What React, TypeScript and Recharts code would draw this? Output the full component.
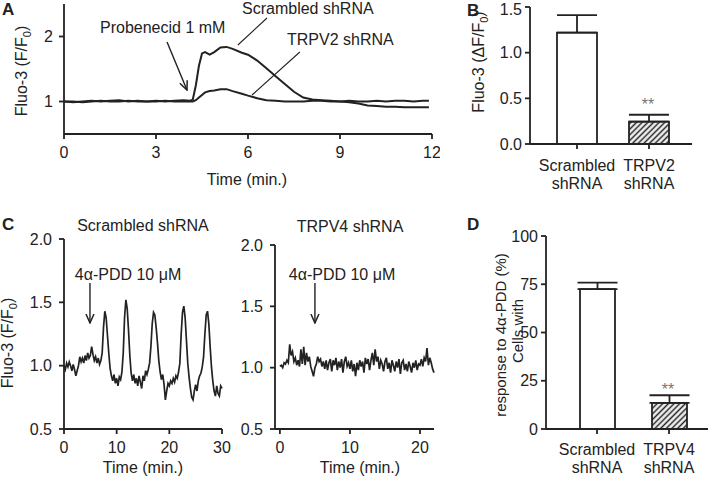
import { LineChart, Line, BarChart, Bar, Cell, ErrorBar, XAxis, YAxis, ReferenceLine } from 'recharts';

const FONT = 'Arial, "Liberation Sans", Helvetica, sans-serif';
const INK = '#222';
const AXIS = { stroke: INK, strokeWidth: 1.8 };
const TICK = { fontSize: 16, fill: INK };

// A: probenecid response (min, F/F0)
const timeA = [0, 0.3, 0.6, 0.9, 1.2, 1.5, 1.8, 2.1, 2.4, 2.7, 3.0, 3.3, 3.6, 3.9, 4.1, 4.2, 4.3, 4.4, 4.5, 4.6, 4.75, 4.9, 5.1, 5.3, 5.5, 5.8, 6.0, 6.3, 6.6, 6.9, 7.2, 7.5, 7.8, 8.1, 8.4, 8.7, 9.0, 9.3, 9.6, 9.9, 10.2, 10.5, 10.8, 11.1, 11.4, 11.7, 11.9];
const scrambledA = [1.00, 0.99, 1.00, 1.01, 1.00, 1.01, 1.02, 1.00, 1.01, 1.00, 1.01, 1.00, 1.01, 1.02, 1.01, 1.03, 1.25, 1.55, 1.74, 1.76, 1.72, 1.76, 1.83, 1.84, 1.81, 1.75, 1.72, 1.63, 1.51, 1.39, 1.27, 1.15, 1.06, 1.03, 1.02, 1.01, 1.00, 0.99, 0.97, 0.94, 0.93, 0.92, 0.92, 0.91, 0.91, 0.91, 0.91];
const trpv2A = [1.00, 1.00, 0.99, 1.00, 1.01, 1.00, 1.00, 1.01, 1.00, 1.00, 1.00, 1.01, 1.00, 1.00, 1.00, 1.00, 1.02, 1.06, 1.10, 1.14, 1.16, 1.17, 1.19, 1.19, 1.16, 1.12, 1.09, 1.05, 1.02, 1.01, 1.00, 1.00, 1.00, 1.01, 1.01, 1.00, 1.00, 1.01, 1.00, 1.00, 1.01, 1.00, 1.01, 1.01, 1.00, 1.01, 1.01];
const ticksA = [0, 3, 6, 9, 12];

// B: peak dF/F0
const groupsB = ['Scrambled shRNA', 'TRPV2 shRNA'];
const meanB = [1.22, 0.245];
const semB = [0.19, 0.075];

// C: 4a-PDD traces
const stepC = 0.25;
const scrambledC = [
  1.00, 0.97, 1.02, 0.99,
  1.03, 1.00, 0.96, 1.01,
  0.97, 0.92, 0.96, 1.00,
  1.07, 1.03, 1.06, 1.02,
  1.08, 1.04, 1.10, 1.06,
  1.08, 1.15, 1.09, 1.04,
  1.07, 1.02, 1.06, 1.01,
  1.04, 1.10, 1.30, 1.43,
  1.38, 1.24, 1.10, 0.98,
  0.92, 0.88, 0.93, 0.86,
  0.90, 0.84, 0.91, 0.89,
  0.95, 1.10, 1.38, 1.52,
  1.45, 1.28, 1.08, 0.94,
  0.88, 0.93, 0.86, 0.90,
  0.84, 0.92, 0.87, 0.82,
  0.92, 0.88, 0.96, 0.93,
  0.97, 1.02, 1.15, 1.33,
  1.42, 1.40, 1.30, 1.18,
  1.04, 0.95, 0.89, 0.93,
  0.85, 0.73, 0.80, 0.86,
  0.84, 0.88, 0.86, 0.90,
  0.87, 0.92, 0.90, 0.95,
  1.02, 1.25, 1.42, 1.47,
  1.38, 1.20, 1.02, 0.91,
  0.82, 0.75, 0.73, 0.80,
  0.85, 0.80, 0.88, 0.92,
  0.94, 0.99, 1.07, 1.25,
  1.40, 1.43, 1.33, 1.15,
  0.99, 0.88, 0.80, 0.76,
  0.84, 0.78, 0.76, 0.84,
  0.82,
];
const stepC2 = 0.2;
const trpv4C = [
  1.01, 1.02, 1.00, 1.04, 1.03,
  1.06, 1.04, 1.19, 1.10, 1.13,
  1.05, 1.08, 1.02, 1.06, 1.01,
  1.15, 1.03, 1.17, 1.02, 1.12,
  1.05, 1.09, 1.01, 0.97, 0.93,
  1.00, 1.03, 1.09, 1.05, 1.07,
  1.01, 1.05, 0.99, 1.06, 0.98,
  1.04, 1.07, 0.97, 1.06, 1.02,
  1.08, 0.98, 1.05, 1.00, 1.07,
  0.96, 1.05, 1.09, 1.01, 1.04,
  0.99, 1.06, 0.97, 1.03, 0.93,
  1.04, 0.98, 1.06, 1.01, 1.05,
  0.96, 1.08, 1.03, 1.07, 0.98,
  1.06, 1.12, 1.02, 1.15, 1.05,
  1.09, 0.99, 1.06, 1.03, 0.97,
  1.05, 1.08, 0.99, 1.04, 0.96,
  1.06, 1.02, 0.97, 1.05, 1.00,
  1.07, 0.95, 1.04, 1.06, 0.98,
  1.03, 0.97, 1.05, 1.01, 0.96,
  1.04, 1.00, 1.06, 0.98, 1.03,
  1.02, 1.07, 1.01, 1.08, 1.05,
  1.16, 1.02, 1.08, 1.04, 0.99,
  0.96,
];
const ticksCLeft = [0, 10, 20, 30];
const ticksCRight = [0, 10, 20];
const ticksCY = [0.5, 1.0, 1.5, 2.0];

// D: responding cells (%)
const groupsD = ['Scrambled shRNA', 'TRPV4 shRNA'];
const meanD = [72.5, 13.5];
const semD = [3.3, 4.0];

const dataA = timeA.map((t, i) => ({ t, s: scrambledA[i], v: trpv2A[i] }));
const dataCLeft = scrambledC.map((v, i) => ({ t: i * stepC, v }));
const dataCRight = trpv4C.map((v, i) => ({ t: i * stepC2, v }));
const dataB = groupsB.map((g, i) => ({ g, m: meanB[i], e: [0, semB[i]] }));
const dataD = groupsD.map((g, i) => ({ g, m: meanD[i], e: [0, semD[i]] }));

const arrow = (p: any) => (
  <line x1={p.x1} y1={p.y1} x2={p.x2} y2={p.y2} stroke={INK} strokeWidth={1.4} markerEnd="url(#arrowHead)" />
);
const pointer = (p: any) => (
  <line x1={p.x1} y1={p.y1} x2={p.x2} y2={p.y2} stroke={INK} strokeWidth={1.1} />
);

const TwoLineTick = ({ x, y, payload, dy }: any) => {
  const [a, b] = String(payload.value).split(' ');
  return (
    <text x={x} y={y} textAnchor="middle" fontSize={16} fill={INK}>
      <tspan x={x} dy={dy}>{a}</tspan>
      <tspan x={x} dy={18}>{b}</tspan>
    </text>
  );
};

const F0 = () => (
  <>
    <tspan dy={4} fontSize={11}>0</tspan>
    <tspan dy={-4}>)</tspan>
  </>
);

const box = (left: number, top: number): React.CSSProperties => ({ position: 'absolute', left, top });

export default function App() {
  return (
    <div style={{ position: 'absolute', left: 0, top: 0, width: 709, height: 482, background: '#fff', fontFamily: FONT, overflow: 'hidden' }}>
      <svg width={0} height={0} style={{ position: 'absolute' }}>
        <defs>
          <marker id="arrowHead" viewBox="0 0 10 10" refX="9" refY="5" markerWidth="10" markerHeight="10" orient="auto" markerUnits="userSpaceOnUse">
            <path d="M0,1 L9,5 L0,9" fill="none" stroke={INK} strokeWidth="1.5" />
          </marker>
          <pattern id="hatch" width="4" height="4" patternUnits="userSpaceOnUse" patternTransform="rotate(45)">
            <rect width="4" height="4" fill="#fff" />
            <line x1="1.5" y1="0" x2="1.5" y2="4" stroke={INK} strokeWidth="1.6" />
          </pattern>
        </defs>
      </svg>

      {/* A */}
      <div style={box(0, 0)}>
        <LineChart width={440} height={200} data={dataA} margin={{ top: 4, right: 8, left: 0, bottom: 0 }}>
          <XAxis dataKey="t" type="number" domain={[0, 12]} ticks={ticksA} interval={0} height={66}
            axisLine={AXIS} tickLine={AXIS} tickSize={5} tickMargin={8} tick={TICK} />
          <YAxis type="number" domain={[0.5, 2.5]} ticks={[1, 2]} width={64}
            axisLine={AXIS} tickLine={AXIS} tickSize={5} tickMargin={6} tick={TICK} />
          <Line dataKey="s" type="linear" stroke={INK} strokeWidth={2} dot={false} isAnimationActive={false} />
          <Line dataKey="v" type="linear" stroke={INK} strokeWidth={2} dot={false} isAnimationActive={false} />
          <ReferenceLine segment={[{ x: 3.36, y: 1.915 }, { x: 4.01, y: 1.177 }]} shape={arrow} ifOverflow="visible" />
          <ReferenceLine segment={[{ x: 6.62, y: 2.285 }, { x: 5.67, y: 1.869 }]} shape={pointer} ifOverflow="visible" />
          <ReferenceLine segment={[{ x: 7.69, y: 1.762 }, { x: 6.13, y: 1.1 }]} shape={pointer} ifOverflow="visible" />
        </LineChart>
      </div>

      {/* B */}
      <div style={box(440, 0)}>
        <BarChart width={269} height={200} data={dataB} margin={{ top: 7, right: 17, left: 0, bottom: 0 }}>
          <XAxis dataKey="g" height={56} padding={{ left: 11, right: 7 }} interval={0}
            axisLine={AXIS} tickLine={AXIS} tickSize={5} tickMargin={2} tick={<TwoLineTick dy={20} />} />
          <YAxis type="number" domain={[0, 1.5]} ticks={[0, 0.5, 1, 1.5]} width={90} tickFormatter={(v: number) => v.toFixed(1)}
            axisLine={AXIS} tickLine={AXIS} tickSize={5} tickMargin={3} tick={TICK} />
          <Bar dataKey="m" barSize={40} stroke={INK} strokeWidth={1.8} isAnimationActive={false}>
            {dataB.map((d, i) => <Cell key={d.g} fill={i === 1 ? 'url(#hatch)' : '#fff'} />)}
            <ErrorBar dataKey="e" direction="y" width={20} stroke={INK} strokeWidth={1.8} />
          </Bar>
        </BarChart>
      </div>

      {/* C left */}
      <div style={box(0, 200)}>
        <LineChart width={235} height={282} data={dataCLeft} margin={{ top: 39, right: 13, left: 0, bottom: 0 }}>
          <XAxis dataKey="t" type="number" domain={[0, 30]} ticks={ticksCLeft} interval={0} height={53}
            axisLine={AXIS} tickLine={AXIS} tickSize={5} tickMargin={8} tick={TICK} />
          <YAxis type="number" domain={[0.5, 2.0]} ticks={ticksCY} width={64} tickFormatter={(v: number) => v.toFixed(1)}
            axisLine={AXIS} tickLine={AXIS} tickSize={5} tickMargin={7} tick={TICK} />
          <Line dataKey="v" type="linear" stroke={INK} strokeWidth={1.7} dot={false} isAnimationActive={false} />
          <ReferenceLine segment={[{ x: 4.93, y: 1.653 }, { x: 4.93, y: 1.337 }]} shape={arrow} ifOverflow="visible" />
        </LineChart>
      </div>

      {/* C right */}
      <div style={box(235, 200)}>
        <LineChart width={205} height={282} data={dataCRight} margin={{ top: 45, right: 6, left: 0, bottom: 0 }}>
          <XAxis dataKey="t" type="number" domain={[-0.7, 22]} ticks={ticksCRight} interval={0} height={53}
            axisLine={AXIS} tickLine={AXIS} tickSize={5} tickMargin={8} tick={TICK} />
          <YAxis type="number" domain={[0.5, 2.0]} ticks={ticksCY} width={40} tickFormatter={(v: number) => v.toFixed(1)}
            axisLine={AXIS} tickLine={AXIS} tickSize={5} tickMargin={7} tick={TICK} />
          <Line dataKey="v" type="linear" stroke={INK} strokeWidth={1.7} dot={false} isAnimationActive={false} />
          <ReferenceLine segment={[{ x: 5, y: 1.69 }, { x: 5, y: 1.364 }]} shape={arrow} ifOverflow="visible" />
        </LineChart>
      </div>

      {/* D */}
      <div style={box(440, 200)}>
        <BarChart width={269} height={282} data={dataD} margin={{ top: 36, right: 1, left: 0, bottom: 0 }}>
          <XAxis dataKey="g" height={53} padding={{ left: 15, right: 3 }} interval={0}
            axisLine={AXIS} tickLine={AXIS} tickSize={5} tickMargin={2} tick={<TwoLineTick dy={19} />} />
          <YAxis type="number" domain={[0, 100]} ticks={[0, 25, 50, 75, 100]} width={106}
            axisLine={AXIS} tickLine={AXIS} tickSize={5} tickMargin={3} tick={TICK} />
          <Bar dataKey="m" barSize={35} stroke={INK} strokeWidth={1.8} isAnimationActive={false}>
            {dataD.map((d, i) => <Cell key={d.g} fill={i === 1 ? 'url(#hatch)' : '#fff'} />)}
            <ErrorBar dataKey="e" direction="y" width={20} stroke={INK} strokeWidth={1.8} />
          </Bar>
        </BarChart>
      </div>

      {/* text layer */}
      <svg width={709} height={482} style={{ position: 'absolute', left: 0, top: 0, pointerEvents: 'none' }} fontFamily={FONT} fontSize={16} fill={INK}>
        <text x={2} y={15} fontWeight="bold" fontSize={17}>A</text>
        <text transform="translate(27,71) rotate(-90)" textAnchor="middle">Fluo-3 (F/F<F0 /></text>
        <text x={247} y={185} textAnchor="middle">Time (min.)</text>
        <text x={100} y={33}>Probenecid 1 mM</text>
        <text x={242} y={14}>Scrambled shRNA</text>
        <text x={287} y={45}>TRPV2 shRNA</text>

        <text x={467} y={16} fontWeight="bold" fontSize={17}>B</text>
        <text transform="translate(484,62) rotate(-90)" textAnchor="middle">Fluo-3 (ΔF/F<F0 /></text>
        <text x={648} y={110} textAnchor="middle" fill="#777">**</text>

        <text x={2} y={230} fontWeight="bold" fontSize={17}>C</text>
        <text x={143} y={231} textAnchor="middle">Scrambled shRNA</text>
        <text x={350} y={232} textAnchor="middle">TRPV4 shRNA</text>
        <text x={128} y={280} textAnchor="middle">4α-PDD 10 μM</text>
        <text x={342} y={280} textAnchor="middle">4α-PDD 10 μM</text>
        <text transform="translate(13,343) rotate(-90)" textAnchor="middle">Fluo-3 (F/F<F0 /></text>
        <text x={143} y={473} textAnchor="middle">Time (min.)</text>
        <text x={360} y={473} textAnchor="middle">Time (min.)</text>

        <text x={467} y={230} fontWeight="bold" fontSize={17}>D</text>
        <text transform="translate(523,331) rotate(-90)" textAnchor="middle" fontSize={15}>Cells with</text>
        <text transform="translate(506,335) rotate(-90)" textAnchor="middle" fontSize={15}>response to 4α-PDD (%)</text>
        <text x={668} y={395} textAnchor="middle" fill="#777">**</text>
      </svg>
    </div>
  );
}
